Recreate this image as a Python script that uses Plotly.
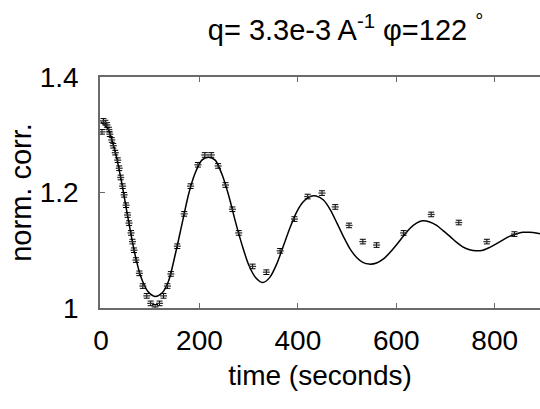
import plotly.graph_objects as go

# measured data (time in s, normalized correlation)
t_data = [2, 5, 9, 12, 16, 18, 22, 25, 29, 34, 37, 40, 44, 47, 51, 54, 57, 61, 64, 67, 71,
          78, 85, 93, 101, 110, 119, 127, 135, 142, 155, 169, 182, 197, 211, 224, 238, 253,
          267, 280, 308, 336, 364, 393, 420, 449, 476, 504, 532, 560, 615, 671, 727, 784, 840]
g_data = [1.305, 1.324, 1.321, 1.317, 1.309, 1.301, 1.291, 1.281, 1.269, 1.256, 1.242, 1.226,
          1.211, 1.196, 1.178, 1.161, 1.147, 1.130, 1.115, 1.100, 1.083,
          1.060, 1.038, 1.021, 1.008, 1.002, 1.008, 1.021, 1.038, 1.059, 1.107, 1.163, 1.211,
          1.248, 1.265, 1.265, 1.246, 1.213, 1.171, 1.130, 1.072, 1.062, 1.099, 1.154, 1.193,
          1.199, 1.175, 1.143, 1.115, 1.109, 1.130, 1.162, 1.148, 1.115, 1.128]
g_err = [0.004] * len(t_data)

# fitted curve
t_fit = [0, 14, 27, 41, 54, 68, 81, 95, 110, 124, 137, 151, 164, 178, 191, 205, 218, 232,
         246, 260, 273, 287, 300, 314, 329, 343, 357, 370, 384, 398, 411, 425, 437, 452,
         466, 480, 493, 507, 520, 532, 545, 560, 574, 587, 601, 615, 628, 641, 653, 668,
         682, 695, 709, 722, 735, 749, 762, 776, 790, 803, 817, 830, 843, 857, 870, 884, 900]
g_fit = [1.322, 1.310, 1.277, 1.222, 1.160, 1.097, 1.054, 1.029, 1.020, 1.026, 1.046, 1.093,
         1.143, 1.197, 1.233, 1.256, 1.261, 1.256, 1.231, 1.193, 1.150, 1.108, 1.075, 1.053,
         1.044, 1.053, 1.076, 1.106, 1.139, 1.167, 1.184, 1.193, 1.194, 1.187, 1.170, 1.146,
         1.123, 1.101, 1.087, 1.079, 1.076, 1.078, 1.085, 1.096, 1.110, 1.125, 1.138, 1.147,
         1.151, 1.149, 1.143, 1.134, 1.124, 1.114, 1.106, 1.101, 1.099, 1.100, 1.105, 1.111,
         1.118, 1.124, 1.128, 1.131, 1.131, 1.130, 1.127]

x_ticks = [0, 200, 400, 600, 800]
y_ticks = [1, 1.2, 1.4]
y_tick_text = ["1", "1.2", "1.4"]

FONT = "Liberation Sans, Arial, sans-serif"
AXC = "#6a6a6a"

fig = go.Figure()
fig.add_trace(go.Scatter(
    x=t_fit, y=g_fit, mode="lines", line=dict(color="black", width=1.5, shape="spline", smoothing=0.8),
    hoverinfo="skip", showlegend=False))
fig.add_trace(go.Scatter(
    x=t_data, y=g_data, mode="markers",
    marker=dict(symbol="line-ew", size=5, color="black", line=dict(color="#333", width=1.3)),
    error_y=dict(type="data", array=g_err, visible=True, color="black", thickness=1, width=3),
    showlegend=False))

fig.update_layout(
    width=540, height=409,
    margin=dict(l=100, r=0, t=77, b=101),
    paper_bgcolor="white", plot_bgcolor="white",
    font=dict(family=FONT, color="black", size=28),
    title=dict(text="q= 3.3e-3 A<sup>-1</sup> φ=122 <sup>°</sup>", x=0.64, xanchor="center",
               y=1 - 30 / 409, yanchor="middle", xref="container", yref="container",
               font=dict(size=29, family=FONT, color="black")),
)
fig.update_xaxes(
    range=[-2, 892], tickvals=x_ticks, ticks="inside", ticklen=5, tickcolor=AXC, tickwidth=1,
    showline=True, linecolor=AXC, linewidth=1.5, mirror="ticks", showgrid=False, zeroline=False,
    tickfont=dict(size=28), ticklabelstandoff=7,
    title=dict(text="time (seconds)", font=dict(size=28), standoff=10))
fig.update_yaxes(
    range=[1, 1.4], tickvals=y_ticks, ticktext=y_tick_text, ticks="inside", ticklen=5,
    tickcolor=AXC, tickwidth=1, showline=True, linecolor=AXC, linewidth=1.5, mirror=False,
    showgrid=False, zeroline=False, tickfont=dict(size=28), ticklabelstandoff=14,
    title=dict(text="norm. corr.", font=dict(size=29), standoff=0))

fig.write_html("out.html")
